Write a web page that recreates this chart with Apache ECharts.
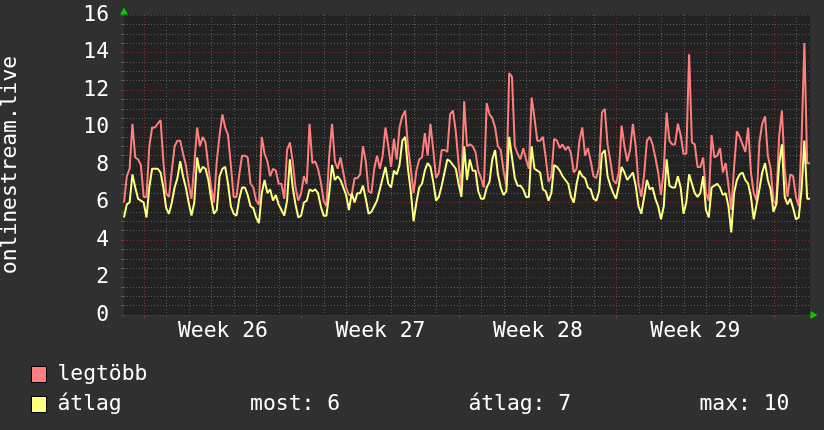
<!DOCTYPE html>
<html>
<head>
<meta charset="utf-8">
<title>onlinestream.live</title>
<script src="https://cdn.jsdelivr.net/npm/echarts@6/dist/echarts.min.js"></script>
<style>
  html, body { margin: 0; padding: 0; background: #303030; }
  #chart { width: 824px; height: 430px; }
</style>
</head>
<body>
<div id="chart"></div>
<script>
// idotengely: napokban, a 26. het elejetol szamolva, 3 orankent egy minta
var startDay = -0.9;
var stepDay = 0.125;
var firstWeek = 26;
var weekMiddles = [3.5, 10.5, 17.5, 24.5];

// legtobb (piros)
var legtobbValues = [
  6.0, 7.4, 7.8, 10.2, 8.4, 8.3, 8.0, 6.3, 6.3, 9.0, 10.0, 10.0, 10.2, 10.4, 8.2, 6.5,
  6.3, 7.7, 9.0, 9.3, 9.3, 8.6, 8.0, 7.0, 6.2, 8.0, 10.0, 9.0, 9.5, 9.2, 7.9, 6.8,
  6.0, 8.2, 9.6, 10.7, 10.0, 9.6, 8.0, 6.3, 6.3, 7.5, 8.5, 8.5, 8.4, 7.0, 6.8, 6.1,
  5.9, 9.5, 8.6, 8.2, 7.4, 7.8, 7.7, 7.0, 7.0, 6.2, 8.8, 9.2, 8.2, 6.8, 6.1, 6.5,
  7.4, 7.0, 10.2, 8.1, 8.2, 7.8, 7.1, 6.1, 5.8, 8.5, 10.2, 8.2, 7.8, 8.4, 7.6, 6.8,
  6.4, 6.4, 7.3, 7.3, 7.5, 9.0, 8.2, 6.6, 6.5, 7.8, 8.5, 7.8, 8.5, 10.0, 9.0, 7.9,
  9.4, 8.3, 10.0, 10.6, 10.9, 9.0, 7.8, 6.5, 7.7, 8.3, 8.4, 9.7, 8.5, 10.2, 8.8, 7.3,
  7.6, 8.8, 8.8, 8.7, 10.7, 10.9, 9.8, 8.1, 6.7, 11.4, 9.0, 9.1, 9.0, 8.7, 7.7, 7.3,
  6.8, 11.3, 10.7, 10.5, 10.0, 9.0, 8.8, 7.7, 6.9, 12.9, 12.7, 9.0, 8.6, 8.3, 8.9, 8.3,
  7.8, 11.6, 10.5, 9.3, 9.3, 9.5, 8.4, 7.1, 7.4, 9.4, 9.3, 8.9, 9.1, 8.8, 9.0, 8.6,
  7.6, 7.8, 9.3, 10.0, 8.5, 8.9, 8.2, 7.4, 7.3, 7.9, 10.8, 11.0, 9.1, 8.2, 7.2, 7.0,
  7.6, 10.1, 9.0, 8.2, 8.8, 10.2, 9.0, 7.0, 6.3, 7.5, 9.3, 9.5, 9.1, 8.4, 7.6, 6.4,
  7.8, 10.8, 9.3, 9.1, 9.1, 10.2, 9.6, 8.6, 8.6, 13.9, 9.2, 9.1, 7.9, 7.9, 8.4, 6.5,
  6.1, 9.6, 8.4, 8.5, 8.9, 7.6, 8.1, 6.9, 5.6, 7.9, 9.8, 9.5, 9.1, 8.7, 10.0, 7.6,
  6.5, 6.1, 9.2, 10.2, 10.6, 8.5, 7.8, 6.1, 5.9, 9.5, 10.9, 7.8, 6.3, 7.5, 7.4, 6.3,
  5.8, 9.3, 14.5, 8.1, 8.1
];

// atlag (sarga)
var atlagValues = [
  5.2, 5.9, 6.0, 7.5, 6.8, 6.2, 6.1, 6.0, 5.2, 6.8, 7.8, 7.8, 7.8, 7.6, 6.8, 5.7,
  5.4, 6.0, 6.8, 7.3, 8.2, 7.4, 6.8, 6.0, 5.3, 6.0, 8.4, 7.6, 7.9, 7.8, 7.2, 6.2,
  5.4, 5.6, 7.4, 7.8, 7.9, 7.0, 5.8, 5.4, 5.3, 6.2, 6.8, 6.8, 6.4, 5.8, 5.7, 5.2,
  4.9, 6.5, 7.2, 6.5, 6.7, 6.1, 6.4, 5.9, 5.6, 5.3, 6.1, 8.3, 6.8, 5.9, 5.2, 5.3,
  6.0, 6.1, 6.7, 6.6, 6.7, 6.5, 5.8, 5.3, 5.3, 6.5, 8.0, 7.2, 7.4, 7.2, 6.8, 6.4,
  5.6, 6.5, 6.0, 6.5, 6.5, 6.9, 6.2, 5.4, 5.5, 5.8, 6.1, 6.7, 7.3, 7.9, 7.0, 6.8,
  7.7, 7.5, 8.0, 9.3, 9.5, 7.8, 6.6, 5.0, 6.0, 6.8, 7.0, 7.7, 8.1, 7.9, 7.1, 6.1,
  6.3, 6.9, 7.6, 8.3, 8.2, 8.0, 7.8, 7.0, 6.3, 9.0, 7.2, 8.3, 7.7, 7.7, 6.6, 6.2,
  6.2, 6.8, 7.1, 8.3, 8.8, 7.5, 6.8, 6.4, 6.6, 9.5, 8.4, 7.3, 6.9, 6.9, 6.7, 6.3,
  6.3, 9.0, 7.8, 7.7, 7.6, 6.7, 6.6, 6.1, 6.5, 8.0, 7.9, 7.7, 7.4, 7.2, 7.0, 6.3,
  6.0, 7.0, 7.7, 7.4, 7.3, 6.8, 6.7, 6.2, 6.1, 6.6, 8.6, 8.8, 7.4, 6.9, 6.5, 6.2,
  6.9, 7.9, 7.6, 7.2, 7.4, 7.6, 6.9, 5.8, 5.4, 6.3, 7.2, 6.7, 6.8, 6.2, 5.8, 5.1,
  5.8, 8.3, 6.9, 6.8, 6.8, 7.4, 6.8, 5.4, 6.0, 7.5, 7.0, 6.5, 6.3, 6.5, 7.4, 5.6,
  5.2, 6.8, 6.9, 7.0, 6.8, 6.4, 6.5, 5.8, 4.4, 6.5, 7.2, 7.5, 7.6, 7.2, 7.0, 6.3,
  5.1, 5.9, 6.7, 7.6, 8.1, 7.2, 6.7, 5.5, 5.9, 8.0, 9.1, 6.3, 5.9, 6.2, 5.7, 5.1,
  5.2, 6.7, 9.3, 6.2, 6.2
];

// jelmagyarazat mellett kiirt ertekek
var statLabels = ["most", "átlag", "max"];
var statValues = [6, 7, 10];

var monoFont = "DejaVu Sans Mono";
var fontSize = 21.33;

function toPoints(values) {
  return values.map(function (v, i) {
    return [startDay + i * stepDay, v];
  });
}

function drawChart() {
  var myChart = echarts.init(document.getElementById("chart"), null, { renderer: "canvas" });

  var xMin = startDay;
  var xMax = startDay + (legtobbValues.length - 1) * stepDay;

  // "atlag" sor vegere: most / atlag / max, fix szelessegu betuvel igazitva
  var statText = statLabels.map(function (l, i) {
    return "          " + l + ": " + statValues[i];
  }).join("");

  var option = {
    backgroundColor: "#303030",
    animation: false,
    textStyle: { fontFamily: monoFont },
    grid: {
      left: 124,
      top: 15,
      width: 686,
      height: 300,
      outerBoundsMode: "none",
      containLabel: false,
      show: true,
      backgroundColor: "#222222",
      borderWidth: 0
    },
    legend: {
      orient: "vertical",
      left: 31,
      top: 364,
      padding: 0,
      itemWidth: 15,
      itemHeight: 16,
      itemGap: 9,
      icon: "rect",
      selectedMode: false,
      itemStyle: { borderColor: "#000000", borderWidth: 1 },
      textStyle: {
        color: "#ffffff",
        fontFamily: monoFont,
        fontSize: fontSize,
        lineHeight: 16,
        padding: [0, 0, 0, 6]
      },
      formatter: function (name) {
        return name === "átlag" ? name + statText : name;
      },
      data: ["legtöbb", "átlag"]
    },
    xAxis: [
      {
        // napi racs (szurke)
        type: "value",
        min: xMin,
        max: xMax,
        minInterval: 1,
        maxInterval: 1,
        axisLine: {
          show: true,
          onZero: false,
          symbol: ["none", "triangle"],
          symbolSize: [8, 7],
          symbolOffset: [0, 4],
          lineStyle: { color: "#00cc00", width: 0 }
        },
        axisTick: { show: false },
        axisLabel: { show: false },
        splitLine: {
          show: true,
          showMinLine: false,
          showMaxLine: false,
          lineStyle: { color: "#5a5a5a", type: [1, 2], width: 1 }
        }
      },
      {
        // heti racs (piros) es a het feliratok
        type: "value",
        position: "bottom",
        min: xMin,
        max: xMax,
        minInterval: 7,
        maxInterval: 7,
        axisLine: { show: false, onZero: false },
        axisTick: {
          show: true,
          length: 3,
          lineStyle: { color: "#8a2a2a" }
        },
        axisLabel: {
          show: true,
          customValues: weekMiddles,
          margin: 6,
          color: "#ffffff",
          fontFamily: monoFont,
          fontSize: fontSize,
          formatter: function (value) {
            return "Week " + (firstWeek + Math.floor(value / 7));
          }
        },
        splitLine: {
          show: true,
          showMinLine: false,
          showMaxLine: false,
          lineStyle: { color: "#8a2a2a", type: [1, 2], width: 1 }
        }
      }
    ],
    yAxis: {
      type: "value",
      min: 0,
      max: 16,
      interval: 2,
      name: "onlinestream.live",
      nameLocation: "middle",
      nameRotate: 90,
      nameGap: 103,
      nameTextStyle: {
        color: "#ffffff",
        fontFamily: monoFont,
        fontSize: fontSize
      },
      axisLine: {
        show: true,
        onZero: false,
        symbol: ["none", "triangle"],
        symbolSize: [8, 7],
        symbolOffset: [0, 4],
        lineStyle: { color: "#00cc00", width: 0 }
      },
      axisTick: { show: true, length: 3, lineStyle: { color: "#8a2a2a" } },
      minorTick: { show: true, splitNumber: 4, length: 3, lineStyle: { color: "#5a5a5a" } },
      axisLabel: {
        color: "#ffffff",
        fontFamily: monoFont,
        fontSize: fontSize,
        margin: 15
      },
      splitLine: {
        show: true,
        lineStyle: { color: "#8a2a2a", type: [1, 2], width: 1 }
      },
      minorSplitLine: {
        show: true,
        lineStyle: { color: "#5a5a5a", type: [1, 2], width: 1 }
      }
    },
    series: [
      {
        name: "legtöbb",
        type: "line",
        xAxisIndex: 0,
        data: toPoints(legtobbValues),
        showSymbol: false,
        color: "#ff7f7f",
        lineStyle: { width: 2, color: "#ff7f7f" },
        itemStyle: { color: "#ff7f7f" }
      },
      {
        name: "átlag",
        type: "line",
        xAxisIndex: 0,
        data: toPoints(atlagValues),
        showSymbol: false,
        color: "#ffff80",
        lineStyle: { width: 2, color: "#ffff80" },
        itemStyle: { color: "#ffff80" }
      }
    ]
  };

  myChart.setOption(option);
}

drawChart();
</script>
</body>
</html>
